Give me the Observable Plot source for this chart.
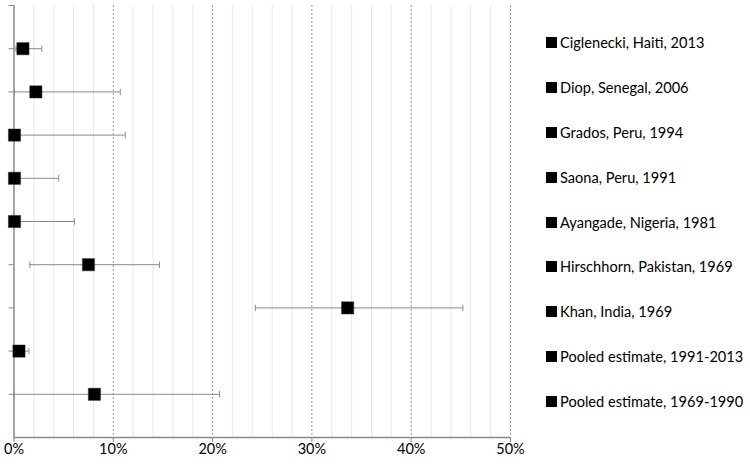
<!DOCTYPE html>
<html>
<head>
<meta charset="utf-8">
<script src="https://cdn.jsdelivr.net/npm/d3@7"></script>
<script src="https://cdn.jsdelivr.net/npm/@observablehq/plot@0.6"></script>
<style>
  html, body { margin: 0; padding: 0; background: #fff; }
  #wrap { position: relative; width: 750px; height: 468px; font-family: Lato, "Open Sans", sans-serif; }
  #legend { position: absolute; left: 546px; top: 20px; }
  .item { height: 44.9px; display: flex; align-items: center; font-size: 14.6px; color: #000; white-space: nowrap; }
  .sw { width: 11px; height: 11px; background: #000; margin-right: 3px; }
</style>
</head>
<body>
<div id="wrap"><div id="legend"></div></div>
<script>
const studies = [
  "Ciglenecki, Haiti, 2013",
  "Diop, Senegal, 2006",
  "Grados, Peru, 1994",
  "Saona, Peru, 1991",
  "Ayangade, Nigeria, 1981",
  "Hirschhorn, Pakistan, 1969",
  "Khan, India, 1969",
  "Pooled estimate, 1991-2013",
  "Pooled estimate, 1969-1990"
];
const estimate = [0.9, 2.2, 0.05, 0.05, 0.05, 7.5, 33.6, 0.5, 8.1];
const lower    = [0.2, 0.05, 0, 0, 0, 1.6, 24.3, 0, 0];
const upper    = [2.8, 10.7, 11.2, 4.5, 6.1, 14.65, 45.2, 1.5, 20.7];
const xMajor = [0, 10, 20, 30, 40, 50];
const xMinor = [2,4,6,8,12,14,16,18,22,24,26,28,32,34,36,38,42,44,46,48];

const data = studies.map((s, i) => ({study: s, pos: i + 1, est: estimate[i], lo: lower[i], hi: upper[i]}));
const capH = 0.075;

const chart = Plot.plot({
  width: 750,
  height: 468,
  marginLeft: 13.5,
  marginRight: 240,
  marginTop: 5,
  marginBottom: 31,
  style: {fontFamily: "Lato, 'Open Sans', sans-serif", background: "#fff"},
  x: {domain: [0, 50]},
  y: {domain: [0, 10], reverse: true},
  marks: [
    Plot.ruleX(xMinor, {stroke: "#e8e8e8", strokeWidth: 1}),
    Plot.ruleX(xMajor.slice(1), {stroke: "#9a9a9a", strokeWidth: 1, strokeDasharray: "2,2"}),
    Plot.axisX({ticks: xMajor, tickFormat: d => d + "%", tickSize: 5, tickPadding: 1, fontSize: 14.5, stroke: "#888", fill: "#000", label: null}),
    Plot.axisY({ticks: [0,1,2,3,4,5,6,7,8,9], tickFormat: () => "", tickSize: 5, stroke: "#888", label: null}),
    Plot.ruleY([10], {stroke: "#888", strokeWidth: 1.5}),
    Plot.ruleX([0], {stroke: "#888", strokeWidth: 1.5}),
    Plot.ruleY(data, {y: "pos", x1: "lo", x2: "hi", stroke: "#8a8a8a", strokeWidth: 1}),
    Plot.link(data, {x1: "lo", x2: "lo", y1: d => d.pos - capH, y2: d => d.pos + capH, stroke: "#8a8a8a"}),
    Plot.link(data, {x1: "hi", x2: "hi", y1: d => d.pos - capH, y2: d => d.pos + capH, stroke: "#8a8a8a"}),
    Plot.dot(data, {x: "est", y: "pos", symbol: "square", r: 6.9, fill: "#000", stroke: "#333", strokeWidth: 0.5})
  ]
});
document.getElementById("wrap").prepend(chart);

const legend = document.getElementById("legend");
studies.forEach(s => {
  const it = document.createElement("div");
  it.className = "item";
  it.innerHTML = '<span class="sw"></span><span>' + s + '</span>';
  legend.appendChild(it);
});
</script>
</body>
</html>
